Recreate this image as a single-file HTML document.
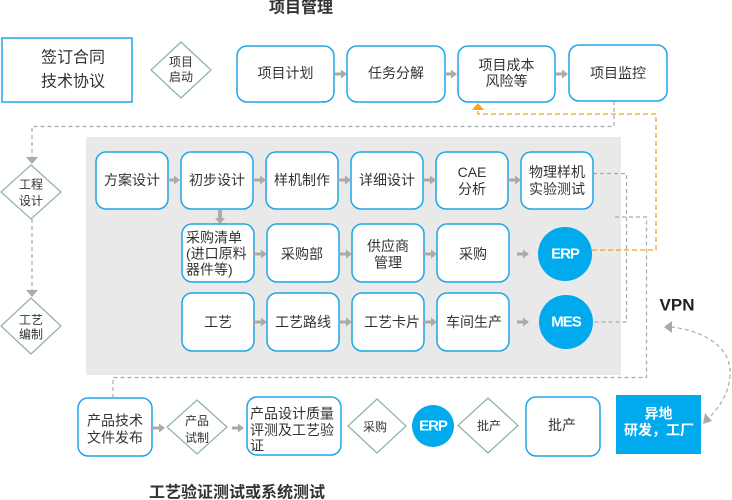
<!DOCTYPE html>
<html><head><meta charset="utf-8"><style>
html,body{margin:0;padding:0;background:#fff;}
svg{display:block;font-family:"Liberation Sans","Noto Sans CJK SC",sans-serif;}
.t{font-size:14px;fill:#333;text-anchor:middle;dominant-baseline:central;}
.l{font-size:14px;fill:#333;dominant-baseline:central;}
.d{font-size:12px;fill:#333;text-anchor:middle;dominant-baseline:central;}
.b{fill:#fff;stroke:#1ea6e8;stroke-width:1.5;}
.dm{fill:#fff;stroke:#8ab59f;stroke-width:1.2;}
.ar{fill:#aaa;}
.ds{fill:none;stroke:#aaa;stroke-width:1.2;stroke-dasharray:4 3;}
.c{fill:#00aaec;}
.ct{font-size:15px;font-weight:bold;fill:#fff;text-anchor:middle;dominant-baseline:central;letter-spacing:-1px;}
</style></head><body>
<svg width="732" height="500" viewBox="0 0 732 500" xmlns="http://www.w3.org/2000/svg">
<!-- titles -->
<text x="301" y="8" font-size="16" font-weight="bold" fill="#333" text-anchor="middle" dominant-baseline="central">项目管理</text>
<text x="237" y="493" font-size="16" font-weight="bold" fill="#333" text-anchor="middle" dominant-baseline="central">工艺验证测试或系统测试</text>

<!-- gray panel -->
<rect x="86" y="137" width="535" height="238" fill="#e9e9e9"/>

<!-- dashed connectors -->
<path class="ds" d="M614,101 V126.5 H32 V157"/>
<path class="ds" d="M32,219 V290"/>
<path class="ds" d="M593,173.5 H626.5 V322 H593"/>
<path class="ds" d="M615,217 H646.5 V377.5 H113 V397"/>
<path fill="none" stroke="#f5a31a" stroke-width="1.3" stroke-dasharray="5 3" d="M592,250 H656 V114 H478 V109"/>
<polygon points="472,110 484,110 478,103" fill="#f5a31a"/>
<polygon class="ar" points="26,157 38,157 32,164"/>
<polygon class="ar" points="26,290 38,290 32,297"/>
<path class="ds" d="M671,327 C700,330 732,345 730,375 C729,395 718,408 709,418"/>
<polygon class="ar" points="664,327 672,321 672,333"/>
<polygon class="ar" points="703,424 712,421 705,413"/>

<!-- top row -->
<rect x="2" y="38" width="130" height="64" fill="#fff" stroke="#1ea6e8" stroke-width="1.5"/>
<text x="73" y="58" font-size="16" fill="#333" text-anchor="middle" dominant-baseline="central">签订合同</text>
<text x="73" y="82" font-size="16" fill="#333" text-anchor="middle" dominant-baseline="central">技术协议</text>

<polygon class="dm" points="181,42 211,70 181,98 151,70"/>
<text class="d" x="181" y="62">项目</text>
<text class="d" x="181" y="77">启动</text>

<rect class="b" x="237" y="46" width="97" height="56" rx="10"/>
<text class="t" x="285.5" y="73">项目计划</text>
<rect class="b" x="347" y="46" width="98" height="56" rx="10"/>
<text class="t" x="396" y="73">任务分解</text>
<rect class="b" x="458" y="46" width="97" height="56" rx="10"/>
<text class="t" x="506.5" y="65">项目成本</text>
<text class="t" x="506.5" y="81">风险等</text>
<rect class="b" x="569" y="45" width="98" height="56" rx="10"/>
<text class="t" x="618" y="73">项目监控</text>

<polygon class="ar" points="335,72.5 341,72.5 341,69.5 347,74 341,78.5 341,75.5 335,75.5"/>
<polygon class="ar" points="445,72.5 451,72.5 451,69.5 457,74 451,78.5 451,75.5 445,75.5"/>
<polygon class="ar" points="556,72.5 562,72.5 562,69.5 568,74 562,78.5 562,75.5 556,75.5"/>

<!-- left diamonds -->
<polygon class="dm" points="31,165 61,192 31,219 1,192"/>
<text class="d" x="31" y="184.5">工程</text>
<text class="d" x="31" y="201">设计</text>
<polygon class="dm" points="31,298 61,326 31,354 1,326"/>
<text class="d" x="31" y="320">工艺</text>
<text class="d" x="31" y="334.5">编制</text>

<!-- row 1 -->
<rect class="b" x="96" y="152" width="72" height="57" rx="10"/>
<text class="t" x="132" y="180">方案设计</text>
<rect class="b" x="181" y="152" width="72" height="57" rx="10"/>
<text class="t" x="217" y="180">初步设计</text>
<rect class="b" x="266" y="152" width="72" height="57" rx="10"/>
<text class="t" x="302" y="180">样机制作</text>
<rect class="b" x="351" y="152" width="72" height="57" rx="10"/>
<text class="t" x="387" y="180">详细设计</text>
<rect class="b" x="436" y="152" width="72" height="57" rx="10"/>
<text class="t" x="472" y="172">CAE</text>
<text class="t" x="472" y="189">分析</text>
<rect class="b" x="521" y="152" width="72" height="57" rx="10"/>
<text class="t" x="557" y="172">物理样机</text>
<text class="t" x="557" y="189">实验测试</text>

<polygon class="ar" points="168,178.5 174,178.5 174,175.5 180,180 174,184.5 174,181.5 168,181.5"/>
<polygon class="ar" points="253,178.5 260,178.5 260,175.5 266,180 260,184.5 260,181.5 253,181.5"/>
<polygon class="ar" points="338,178.5 345,178.5 345,175.5 351,180 345,184.5 345,181.5 338,181.5"/>
<polygon class="ar" points="423,178.5 430,178.5 430,175.5 436,180 430,184.5 430,181.5 423,181.5"/>
<polygon class="ar" points="508,178.5 515,178.5 515,175.5 521,180 515,184.5 515,181.5 508,181.5"/>
<polygon class="ar" points="218,209 218,218 215,218 220,224 225,218 222,218 222,209"/>

<!-- row 2 -->
<rect class="b" x="182" y="224" width="72" height="58" rx="10"/>
<text class="l" x="186" y="237.5">采购清单</text>
<text class="l" x="186" y="253.5">(进口原料</text>
<text class="l" x="186" y="269.5">器件等)</text>
<rect class="b" x="267" y="224" width="72" height="58" rx="10"/>
<text class="t" x="302" y="254">采购部</text>
<rect class="b" x="352" y="224" width="72" height="58" rx="10"/>
<text class="t" x="388" y="246">供应商</text>
<text class="t" x="388" y="262.5">管理</text>
<rect class="b" x="437" y="224" width="72" height="58" rx="10"/>
<text class="t" x="473" y="254">采购</text>
<circle class="c" cx="565" cy="254" r="27"/>
<text class="ct" x="565" y="254">ERP</text>

<polygon class="ar" points="254,252.5 261,252.5 261,249.5 267,254 261,258.5 261,255.5 254,255.5"/>
<polygon class="ar" points="339,252.5 346,252.5 346,249.5 352,254 346,258.5 346,255.5 339,255.5"/>
<polygon class="ar" points="424,252.5 431,252.5 431,249.5 437,254 431,258.5 431,255.5 424,255.5"/>
<polygon class="ar" points="517,252.5 523,252.5 523,249.5 529,254 523,258.5 523,255.5 517,255.5"/>

<!-- row 3 -->
<rect class="b" x="182" y="293" width="72" height="58" rx="10"/>
<text class="t" x="218" y="322">工艺</text>
<rect class="b" x="267" y="293" width="72" height="58" rx="10"/>
<text class="t" x="303" y="322">工艺路线</text>
<rect class="b" x="352" y="293" width="72" height="58" rx="10"/>
<text class="t" x="392" y="322">工艺卡片</text>
<rect class="b" x="437" y="293" width="72" height="58" rx="10"/>
<text class="t" x="474" y="322">车间生产</text>
<circle class="c" cx="566" cy="322" r="27"/>
<text class="ct" x="566" y="322">MES</text>

<polygon class="ar" points="254,320.5 261,320.5 261,317.5 267,322 261,326.5 261,323.5 254,323.5"/>
<polygon class="ar" points="339,320.5 346,320.5 346,317.5 352,322 346,326.5 346,323.5 339,323.5"/>
<polygon class="ar" points="424,320.5 431,320.5 431,317.5 437,322 431,326.5 431,323.5 424,323.5"/>
<polygon class="ar" points="517,320.5 523,320.5 523,317.5 529,322 523,326.5 523,323.5 517,323.5"/>

<!-- VPN -->
<text x="677" y="305" font-size="17" font-weight="bold" fill="#222" text-anchor="middle" dominant-baseline="central">VPN</text>

<!-- bottom row -->
<rect class="b" x="78" y="398" width="74" height="58" rx="10"/>
<text class="t" x="115" y="420.5">产品技术</text>
<text class="t" x="115" y="437.5">文件发布</text>
<polygon class="ar" points="152,426.5 159,426.5 159,423.5 165,428 159,432.5 159,429.5 152,429.5"/>
<polygon class="dm" points="197,400 227,427 197,454 167,427"/>
<text class="d" x="197" y="421">产品</text>
<text class="d" x="197" y="438">试制</text>
<polygon class="ar" points="232,426.5 238,426.5 238,423.5 244,428 238,432.5 238,429.5 232,429.5"/>
<rect class="b" x="247" y="397" width="94" height="58" rx="10"/>
<text class="l" x="250" y="413.5">产品设计质量</text>
<text class="l" x="250" y="430">评测及工艺验</text>
<text class="l" x="250" y="445.5">证</text>
<polygon class="dm" points="377,399 406,426 377,453 348,426"/>
<text class="d" x="375" y="427">采购</text>
<circle class="c" cx="433" cy="426" r="21"/>
<text class="ct" x="433" y="426">ERP</text>
<polygon class="dm" points="488,398 518,425.5 488,453 458,425.5"/>
<text class="d" x="489" y="426">批产</text>
<rect class="b" x="526" y="397" width="74" height="59" rx="10"/>
<text class="t" x="562" y="425">批产</text>
<rect x="616" y="395" width="85" height="59" fill="#00aaec"/>
<text x="658.5" y="413.5" font-size="14" font-weight="bold" fill="#fff" text-anchor="middle" dominant-baseline="central">异地</text>
<text x="659" y="430" font-size="14" font-weight="bold" fill="#fff" text-anchor="middle" dominant-baseline="central">研发，工厂</text>
</svg>
</body></html>
